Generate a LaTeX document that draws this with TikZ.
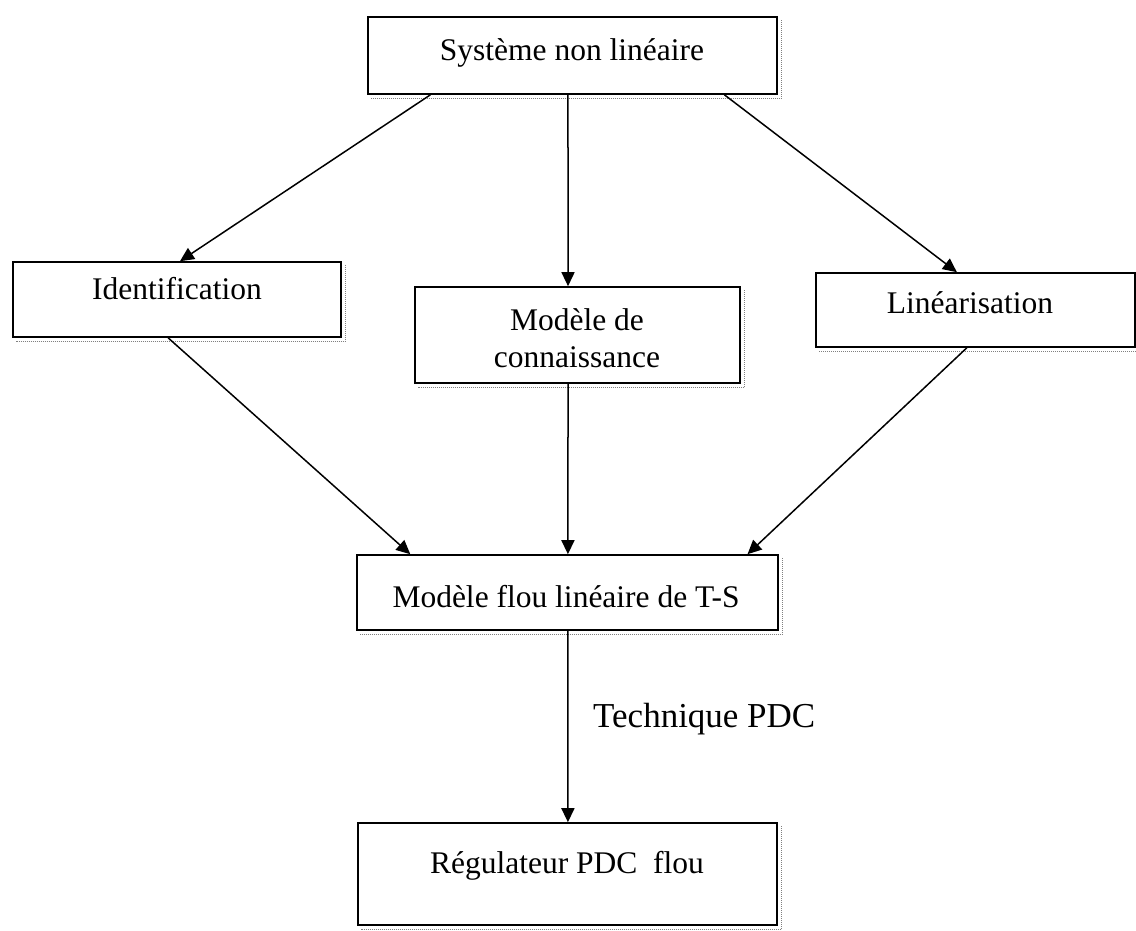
\documentclass[tikz,border=0pt]{standalone}
\usepackage{fontspec}
\setmainfont{Liberation Serif}
\usetikzlibrary{arrows.meta,calc}
\begin{document}
\begin{tikzpicture}[x=1pt,y=-1pt,
  box/.style={draw=black, line width=1.6pt, rectangle, inner sep=0pt},
  lbl/.style={anchor=base, inner sep=0pt, font=\fontsize{31.5}{38}\selectfont},
  arr/.style={line width=1.5pt, -{Triangle[length=14pt,width=13pt]}},
  shade/.style={draw=black!50, line width=1pt, densely dotted}]
\useasboundingbox (0,0) rectangle (1136,930);
\fill[white] (0,0) rectangle (1136,930);

% boxes
\node[box, minimum width=409pt, minimum height=77pt] (sys) at (572.5,55.5) {};
\node[box, minimum width=328pt, minimum height=75pt] (ident) at (177,299.5) {};
\node[box, minimum width=325pt, minimum height=96pt] (model) at (577.5,335) {};
\node[box, minimum width=319pt, minimum height=74pt] (lin) at (975.5,310) {};
\node[box, minimum width=421pt, minimum height=75pt] (ts) at (567.5,592.5) {};
\node[box, minimum width=419pt, minimum height=102pt] (reg) at (567.5,874) {};

% shadow lines
\foreach \b in {sys,ident,model,ts,reg}{
  \draw[shade] ([shift={(4,4)}]\b.north east) -- ([shift={(4,4)}]\b.south east) -- ([shift={(4,4)}]\b.south west);
}
\draw[shade] ([shift={(4,4)}]lin.south west) -- ([shift={(4,4)}]lin.south east);

% texts
\node[lbl] (sysT) at (572,60) {Système non linéaire};
\node[lbl] (identT) at (177,299) {Identification};
\node[lbl] (modelT1) at (577,330) {Modèle de};
\node[lbl] (modelT2) at (577,367) {connaissance};
\node[lbl] (linT) at (970,313) {Linéarisation};
\node[lbl] (tsT) at (566,607) {Modèle flou linéaire de T-S};
\node[lbl] (regT) at (567,873) {Régulateur PDC\ \ flou};
\node[lbl, anchor=base west, font=\fontsize{35}{42}\selectfont] (tech) at (593,727) {Technique PDC};

% connectors
\draw[arr] ($(sys.south west)!0.154!(sys.south east)$) -- ($(ident.north west)!0.509!(ident.north east)$);
\draw[arr] ($(sys.south west)!0.489!(sys.south east)$) -- ($(model.north west)!0.471!(model.north east)$);
\draw[arr] ($(sys.south west)!0.870!(sys.south east)$) -- ($(lin.north west)!0.442!(lin.north east)$);
\draw[arr] ($(ident.south west)!0.473!(ident.south east)$) -- ($(ts.north west)!0.128!(ts.north east)$);
\draw[arr] ($(model.south west)!0.471!(model.south east)$) -- ($(ts.north west)!0.501!(ts.north east)$);
\draw[arr] ($(lin.south west)!0.473!(lin.south east)$) -- ($(ts.north west)!0.926!(ts.north east)$);
\draw[arr] ($(ts.south west)!0.501!(ts.south east)$) -- ($(reg.north west)!0.501!(reg.north east)$);
\end{tikzpicture}
\end{document}
